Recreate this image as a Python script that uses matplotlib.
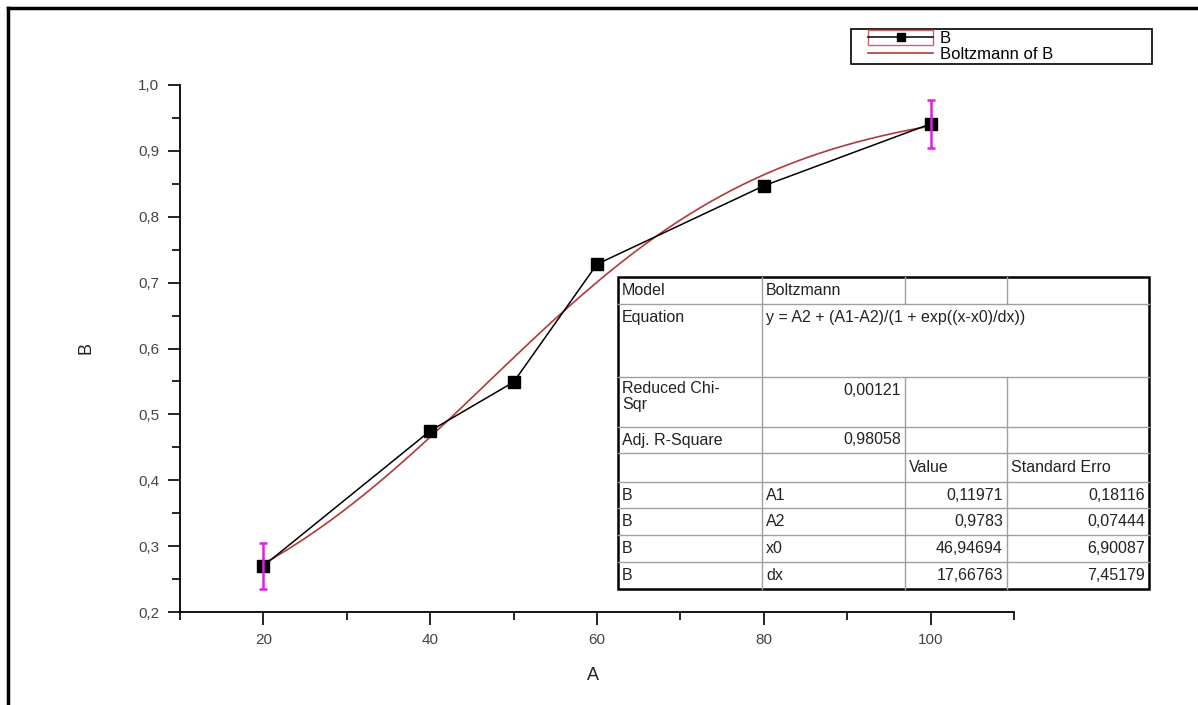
import numpy as np
import matplotlib
matplotlib.use("Agg")
import matplotlib.pyplot as plt
from matplotlib.lines import Line2D
from matplotlib.patches import Patch, Rectangle
from matplotlib.ticker import MultipleLocator, FuncFormatter

plt.rcParams['font.family'] = ['Liberation Sans', 'DejaVu Sans']

A = [20, 40, 50, 60, 80, 100]
B = [0.270, 0.475, 0.549, 0.728, 0.847, 0.941]

# error bars only drawn on the two end points
err_x = [20, 100]
err_y = [0.270, 0.941]
err_size = [0.035, 0.036]

# Boltzmann fit parameters, as given in the table
A1, A2, x0, dx = 0.11971, 0.9783, 46.94694, 17.66763

# fit report table
stat_labels = ["Model", "Equation", "Reduced Chi-\nSqr", "Adj. R-Square"]
stat_values = ["Boltzmann", "y = A2 + (A1-A2)/(1 + exp((x-x0)/dx))", "0,00121", "0,98058"]
param_headers = ["Value", "Standard Erro"]
param_names = ["A1", "A2", "x0", "dx"]
param_values = ["0,11971", "0,9783", "46,94694", "17,66763"]
param_errors = ["0,18116", "0,07444", "6,90087", "7,45179"]

W, H = 1198, 705
fig = plt.figure(figsize=(W / 100, H / 100), dpi=100)

# outer frame (only top and left edges are visible in the original)
fig.add_artist(Line2D([8 / W, 1], [1 - 8 / H, 1 - 8 / H], color='k', lw=2.5, transform=fig.transFigure))
fig.add_artist(Line2D([8 / W, 8 / W], [1 - 8 / H, 0], color='k', lw=2.5, transform=fig.transFigure))

ax = fig.add_axes([180 / W, 1 - 612 / H, 834 / W, 527 / H])

# fitted curve
xs = np.linspace(min(A), max(A), 300)
fit = A2 + (A1 - A2) / (1 + np.exp((xs - x0) / dx))
ax.plot(xs, fit, color='#b03a3a', lw=1.2, zorder=2)

# data
ax.plot(A, B, color='k', lw=1.1, marker='s', markersize=8, zorder=3)
ax.errorbar(err_x, err_y, yerr=err_size, fmt='none', ecolor='#e020e0',
            elinewidth=1.8, capsize=3, capthick=1.8, zorder=4)

ax.set_xlim(10, 110)
ax.set_ylim(0.2, 1.0)
ax.spines['top'].set_visible(False)
ax.spines['right'].set_visible(False)
for s in ('left', 'bottom'):
    ax.spines[s].set_linewidth(1.3)

ax.xaxis.set_major_locator(MultipleLocator(20))
ax.xaxis.set_minor_locator(MultipleLocator(10))
ax.yaxis.set_major_locator(MultipleLocator(0.1))
ax.yaxis.set_minor_locator(MultipleLocator(0.05))
ax.yaxis.set_major_formatter(FuncFormatter(lambda v, p: f"{v:.1f}".replace('.', ',')))
ax.xaxis.set_major_formatter(FuncFormatter(lambda v, p: f"{v:.0f}"))
ax.tick_params(which='major', direction='out', length=9, width=1.2, labelsize=11,
               labelcolor='#444444', pad=6)
ax.tick_params(which='minor', direction='out', length=5.5, width=1.2)

ax.set_xlabel('A', fontsize=13, color='#222222')
ax.set_ylabel('B', fontsize=13, color='#222222')
ax.xaxis.set_label_coords(0.495, -0.105)
ax.yaxis.set_label_coords(-0.103, 0.5)

# legend (frame drawn separately so the entries can sit inset like the original)
fig.add_artist(Rectangle((851 / W, 1 - 64 / H), 301 / W, 35 / H, transform=fig.transFigure,
                         facecolor='white', edgecolor='k', lw=1.2, zorder=6))
handles = [(Patch(facecolor='none', edgecolor='#cc6666'),
            Line2D([], [], color='k', lw=1.1, marker='s', markersize=6)),
           Line2D([], [], color='#b03a3a', lw=1.2)]
leg = fig.legend(handles, ['B', 'Boltzmann of B'],
                 bbox_to_anchor=(868 / W, 1 - 30 / H),
                 loc='upper left', borderaxespad=0, frameon=False,
                 fontsize=12, borderpad=0, labelspacing=0.0,
                 handlelength=3.9, handleheight=1.0, handletextpad=0.4)
leg.set_zorder(7)

# fit report table, drawn in pixel space on an overlay
tab = fig.add_axes([0, 0, 1, 1], zorder=5)
tab.set_xlim(0, W)
tab.set_ylim(H, 0)
tab.axis('off')
tab.patch.set_alpha(0)

col_x = [618, 762, 905, 1007, 1149]
row_y = [277, 304, 377, 427, 453, 482, 508, 535, 562, 589]
grid = '#a0a0a0'
tab.add_patch(Rectangle((col_x[0], row_y[0]), col_x[-1] - col_x[0], row_y[-1] - row_y[0],
                        facecolor='white', edgecolor='none'))
for y in row_y[1:-1]:
    tab.plot([col_x[0], col_x[-1]], [y, y], color=grid, lw=1)
tab.plot([col_x[1], col_x[1]], [row_y[0], row_y[-1]], color=grid, lw=1)
for x in col_x[2:4]:
    tab.plot([x, x], [row_y[0], row_y[1]], color=grid, lw=1)
    tab.plot([x, x], [row_y[2], row_y[-1]], color=grid, lw=1)
tab.add_patch(Rectangle((col_x[0], row_y[0]), col_x[-1] - col_x[0], row_y[-1] - row_y[0],
                        facecolor='none', edgecolor='k', lw=1.8))

tkw = dict(fontsize=11.5, color='#222222')
pad = 4
for i, (lab, val) in enumerate(zip(stat_labels, stat_values)):
    top, bot = row_y[i], row_y[i + 1]
    if i in (0, 3):
        yc = (top + bot) / 2
    else:
        yc = top + 13.5
    if '\n' in lab:
        tab.text(col_x[0] + pad, top + 4, lab, va='top', ha='left', linespacing=1.1, **tkw)
    else:
        tab.text(col_x[0] + pad, yc, lab, va='center', ha='left', **tkw)
    if i >= 2:
        tab.text(col_x[2] - pad, yc, val, va='center', ha='right', **tkw)
    else:
        tab.text(col_x[1] + pad, yc, val, va='center', ha='left', **tkw)

yc = (row_y[4] + row_y[5]) / 2
tab.text(col_x[2] + pad, yc, param_headers[0], va='center', ha='left', **tkw)
tab.text(col_x[3] + pad, yc, param_headers[1], va='center', ha='left', **tkw)

for j, (nm, v, e) in enumerate(zip(param_names, param_values, param_errors)):
    yc = (row_y[5 + j] + row_y[6 + j]) / 2
    tab.text(col_x[0] + pad, yc, 'B', va='center', ha='left', **tkw)
    tab.text(col_x[1] + pad, yc, nm, va='center', ha='left', **tkw)
    tab.text(col_x[3] - pad, yc, v, va='center', ha='right', **tkw)
    tab.text(col_x[4] - pad, yc, e, va='center', ha='right', **tkw)

fig.savefig('out.png', dpi=100)
